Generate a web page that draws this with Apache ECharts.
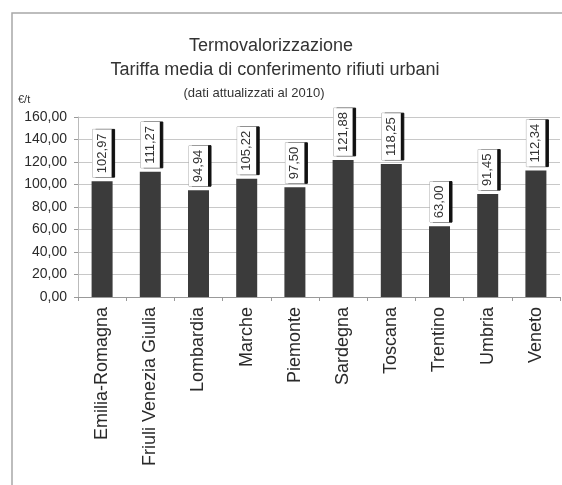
<!DOCTYPE html>
<html>
<head>
<meta charset="utf-8">
<script src="https://cdn.jsdelivr.net/npm/echarts@6/dist/echarts.min.js"></script>
<style>
  html, body { margin: 0; padding: 0; background: #fff; }
  #chart { width: 562px; height: 485px; }
</style>
</head>
<body>
<div id="chart"></div>
<script>
// Regions and average waste-to-energy gate fee (€/t, 2010 values)
const regions = ['Emilia-Romagna', 'Friuli Venezia Giulia', 'Lombardia', 'Marche', 'Piemonte',
                 'Sardegna', 'Toscana', 'Trentino', 'Umbria', 'Veneto'];
const tariffs = [102.97, 111.27, 94.94, 105.22, 97.50, 121.88, 118.25, 63.00, 91.45, 112.34];
const yTicks = { min: 0, max: 160, step: 20 };

const FONT = '"Liberation Sans", Arial, sans-serif';
const fmt = v => Number(v).toFixed(2).replace('.', ',');

const chart = echarts.init(document.getElementById('chart'), null, { renderer: 'canvas' });

chart.setOption({
  backgroundColor: '#fff',
  animation: false,
  title: [
    { text: 'Termovalorizzazione', left: 266, top: 32, textAlign: 'center',
      textStyle: { fontFamily: FONT, fontSize: 18, fontWeight: 'normal', color: '#333' } },
    { text: 'Tariffa media di conferimento rifiuti urbani', left: 270, top: 56, textAlign: 'center',
      textStyle: { fontFamily: FONT, fontSize: 18, fontWeight: 'normal', color: '#333' } },
    { text: '(dati attualizzati al 2010)', left: 249, top: 82, textAlign: 'center',
      textStyle: { fontFamily: FONT, fontSize: 13, fontWeight: 'normal', color: '#333' } }
  ],
  graphic: [
    // outer frame (left and top edges visible)
    { type: 'rect', shape: { x: 12, y: 13, width: 700, height: 600 },
      style: { fill: 'none', stroke: '#a8a8a8', lineWidth: 1.5 }, silent: true, z: -1 }
  ],
  grid: { left: 78, right: 2, top: 117, bottom: 188, containLabel: false },
  xAxis: {
    type: 'category',
    data: regions,
    axisLine: { show: true, lineStyle: { color: '#999', width: 1 } },
    axisTick: { show: true, length: 4, lineStyle: { color: '#999' } },
    axisLabel: {
      rotate: 90, margin: 10, interval: 0,
      fontFamily: FONT, fontSize: 18, color: '#2a2a2a'
    },
    splitLine: { show: false }
  },
  yAxis: {
    type: 'value',
    min: yTicks.min, max: yTicks.max, interval: yTicks.step,
    name: '€/t',
    nameLocation: 'end',
    nameGap: 12,
    nameTextStyle: { fontFamily: FONT, fontSize: 11, color: '#333', align: 'left', padding: [0, 0, 0, -60] },
    axisLine: { show: true, lineStyle: { color: '#bbb' } },
    axisTick: { show: true, length: 4, lineStyle: { color: '#999' } },
    axisLabel: {
      margin: 11, fontFamily: FONT, fontSize: 14, color: '#2a2a2a',
      formatter: v => fmt(v)
    },
    splitLine: { show: true, lineStyle: { color: '#c8c8c8', width: 1 } }
  },
  series: [{
    type: 'bar',
    data: tariffs,
    barWidth: 21,
    itemStyle: { color: '#3b3b3b' },
    label: {
      show: true,
      position: 'top',
      rotate: 90,
      align: 'left',
      verticalAlign: 'middle',
      distance: 3,
      offset: [1, 0],
      fontFamily: FONT,
      fontSize: 13,
      color: '#333',
      backgroundColor: '#fff',
      borderColor: '#aaa',
      borderWidth: 0.5,
      padding: [3, 4],
      shadowColor: '#111',
      shadowBlur: 0,
      shadowOffsetX: 3,
      shadowOffsetY: 0,
      formatter: p => fmt(p.value)
    }
  }]
});
</script>
</body>
</html>
